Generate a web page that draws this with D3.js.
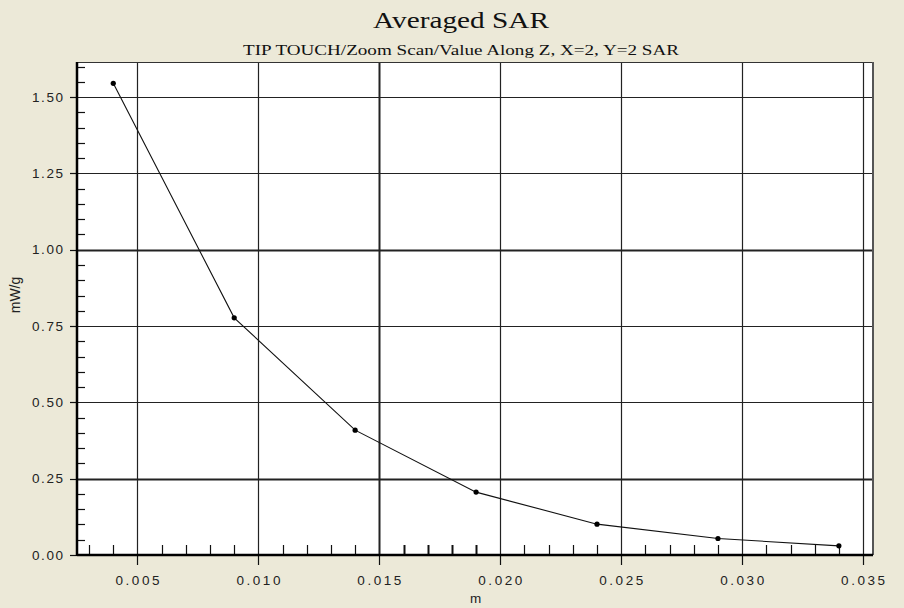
<!DOCTYPE html>
<html><head><meta charset="utf-8">
<script src="https://cdn.jsdelivr.net/npm/d3@7"></script>
<style>body{margin:0;background:#ECE9D8;}svg{display:block;}</style>
</head><body>
<svg id="c" width="904" height="608"></svg>
<script>
const titleText = "Averaged SAR";
const subtitleText = "TIP TOUCH/Zoom Scan/Value Along Z, X=2, Y=2 SAR";
const xLabel = "m";
const yLabel = "mW/g";
const xValues = [0.004, 0.009, 0.014, 0.019, 0.024, 0.029, 0.034];
const yValues = [1.545, 0.777, 0.409, 0.206, 0.101, 0.054, 0.030];
const xTicks = [0.005, 0.010, 0.015, 0.020, 0.025, 0.030, 0.035];
const yTicks = [0.00, 0.25, 0.50, 0.75, 1.00, 1.25, 1.50];
const xMinor = d3.range(3, 36).map(i => i / 1000);
const yMinor = d3.range(1, 33).map(i => i * 0.05);

const svg = d3.select("#c");
const L = 77, R = 873, T = 62, B = 555;
const x = d3.scaleLinear().domain([0.0025, 0.03541]).range([L, R]);
const y = d3.scaleLinear().domain([0, 1.615]).range([B, T]);

svg.append("rect").attr("width", 904).attr("height", 608).attr("fill", "#ECE9D8");
svg.append("rect").attr("x", L).attr("y", T).attr("width", R - L).attr("height", B - T).attr("fill", "#fff");

// grid
svg.append("g").selectAll("line").data(yTicks.filter(d => d > 0)).join("line")
  .attr("x1", L).attr("x2", R).attr("y1", d => Math.round(y(d)) + 0.5).attr("y2", d => Math.round(y(d)) + 0.5)
  .attr("stroke", "#222").attr("stroke-width", d => (Math.abs(d - 1) < 1e-9 || Math.abs(d - 0.25) < 1e-9) ? 2 : 1.2);
svg.append("g").selectAll("line").data(xTicks).join("line")
  .attr("y1", T).attr("y2", B).attr("x1", d => Math.round(x(d)) + 0.5).attr("x2", d => Math.round(x(d)) + 0.5)
  .attr("stroke", "#222").attr("stroke-width", d => Math.abs(d - 0.015) < 1e-9 ? 2 : 1.2);

// minor ticks
const xm = xMinor.filter(d => !xTicks.some(t => Math.abs(t - d) < 1e-9));
svg.append("g").selectAll("line").data(xm).join("line")
  .attr("x1", d => Math.round(x(d)) + 0.5).attr("x2", d => Math.round(x(d)) + 0.5)
  .attr("y1", B).attr("y2", B - 10).attr("stroke", "#111").attr("stroke-width", d => (d > 0.015 && d < 0.020) ? 2 : 1.2);
const ym = yMinor.filter(d => !yTicks.some(t => Math.abs(t - d) < 1e-9) && y(d) > T);
svg.append("g").selectAll("line").data(ym).join("line")
  .attr("y1", d => Math.round(y(d)) + 0.5).attr("y2", d => Math.round(y(d)) + 0.5)
  .attr("x1", L).attr("x2", L + 8).attr("stroke", "#111").attr("stroke-width", 1.2);

// major tick marks outside
svg.append("g").selectAll("line").data(xTicks).join("line")
  .attr("x1", d => Math.round(x(d)) + 0.5).attr("x2", d => Math.round(x(d)) + 0.5)
  .attr("y1", B).attr("y2", B + 10).attr("stroke", "#111").attr("stroke-width", 1.2);
svg.append("g").selectAll("line").data(yTicks).join("line")
  .attr("y1", d => Math.round(y(d)) + 0.5).attr("y2", d => Math.round(y(d)) + 0.5)
  .attr("x1", L - 7).attr("x2", L).attr("stroke", "#111").attr("stroke-width", 1.2);

// borders
svg.append("line").attr("x1", L).attr("x2", R).attr("y1", T + 0.5).attr("y2", T + 0.5).attr("stroke", "#333").attr("stroke-width", 1.2);
svg.append("line").attr("x1", R).attr("x2", R).attr("y1", T).attr("y2", B).attr("stroke", "#555").attr("stroke-width", 2);
svg.append("line").attr("x1", L).attr("x2", L).attr("y1", T).attr("y2", B + 1).attr("stroke", "#000").attr("stroke-width", 2.5);
svg.append("line").attr("x1", L).attr("x2", R).attr("y1", B).attr("y2", B).attr("stroke", "#000").attr("stroke-width", 2.5);

// tick labels
const lblFont = "'Liberation Sans', Arial, sans-serif";
svg.append("g").selectAll("text").data(yTicks).join("text")
  .attr("x", 63).attr("y", d => y(d) + 4.5).attr("text-anchor", "end")
  .attr("font-family", lblFont).attr("font-size", 13.5).attr("fill", "#222")
  .attr("textLength", 31).attr("lengthAdjust", "spacing")
  .text(d => d3.format(".2f")(d));
svg.append("g").selectAll("text").data(xTicks).join("text")
  .attr("x", d => x(d)).attr("y", 585).attr("text-anchor", "middle")
  .attr("font-family", lblFont).attr("font-size", 13.5).attr("fill", "#222")
  .attr("textLength", 44).attr("lengthAdjust", "spacing")
  .text(d => d3.format(".3f")(d));

svg.append("text").attr("x", 470).attr("y", 603).attr("font-family", lblFont).attr("font-size", 13.5).attr("fill", "#222").text(xLabel);
svg.append("text").attr("transform", "translate(20,295) rotate(-90)").attr("text-anchor", "middle")
  .attr("font-family", lblFont).attr("font-size", 14).attr("fill", "#222").text(yLabel);

// titles
const serif = "'Liberation Serif', 'Times New Roman', serif";
svg.append("text").attr("x", 461).attr("y", 28).attr("text-anchor", "middle")
  .attr("font-family", serif).attr("font-size", 23).attr("fill", "#111")
  .attr("textLength", 176).attr("lengthAdjust", "spacingAndGlyphs").text(titleText);
svg.append("text").attr("x", 461).attr("y", 55).attr("text-anchor", "middle")
  .attr("font-family", serif).attr("font-size", 14.5).attr("fill", "#111")
  .attr("textLength", 436).attr("lengthAdjust", "spacingAndGlyphs").text(subtitleText);

// series
const pts = xValues.map((v, i) => [v, yValues[i]]);
const line = d3.line().x(d => x(d[0])).y(d => y(d[1]));
svg.append("path").datum(pts).attr("d", line).attr("fill", "none").attr("stroke", "#111").attr("stroke-width", 1.1);
svg.append("g").selectAll("circle").data(pts).join("circle")
  .attr("cx", d => x(d[0])).attr("cy", d => y(d[1])).attr("r", 2.6).attr("fill", "#000");
</script>
</body></html>
